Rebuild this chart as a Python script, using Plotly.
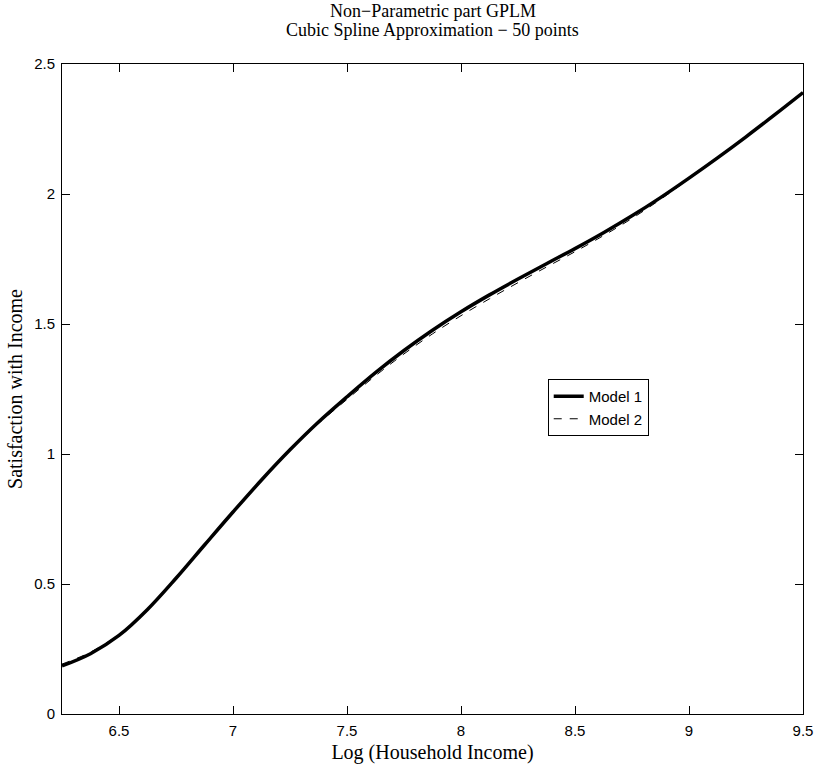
import plotly.graph_objects as go

# Log household income grid
log_income = [6.25, 6.375, 6.5, 6.625, 6.75, 6.875, 7.0, 7.125, 7.25, 7.375,
              7.5, 7.625, 7.75, 7.875, 8.0, 8.125, 8.25, 8.375, 8.5, 8.625,
              8.75, 8.875, 9.0, 9.125, 9.25, 9.375, 9.5]

# Estimated non-parametric component, Model 1
model1 = [0.185, 0.232, 0.302, 0.402, 0.522, 0.650, 0.777, 0.900, 1.016, 1.123,
          1.220, 1.313, 1.398, 1.476, 1.547, 1.612, 1.673, 1.732, 1.790, 1.851,
          1.916, 1.986, 2.061, 2.139, 2.220, 2.304, 2.390]

# Estimated non-parametric component, Model 2
model2 = [0.192, 0.238, 0.306, 0.403, 0.522, 0.650, 0.777, 0.899, 1.013, 1.117,
          1.210, 1.301, 1.385, 1.462, 1.532, 1.597, 1.659, 1.719, 1.778, 1.840,
          1.906, 1.979, 2.058, 2.138, 2.220, 2.304, 2.390]

x_ticks = [6.5, 7, 7.5, 8, 8.5, 9, 9.5]
x_tick_labels = ["6.5", "7", "7.5", "8", "8.5", "9", "9.5"]
y_ticks = [0, 0.5, 1, 1.5, 2, 2.5]
y_tick_labels = ["0", "0.5", "1", "1.5", "2", "2.5"]

title_lines = ["Non\u2212Parametric part GPLM",
               "Cubic Spline Approximation \u2212 50 points"]

serif = "Liberation Serif, Times New Roman, serif"
sans = "Liberation Sans, Arial, Helvetica, sans-serif"

fig = go.Figure()
fig.add_trace(go.Scatter(
    x=log_income, y=model1, mode="lines", name="Model 1",
    line=dict(color="black", width=3.5, shape="spline", smoothing=1.0),
))
fig.add_trace(go.Scatter(
    x=log_income, y=model2, mode="lines", name="Model 2",
    line=dict(color="black", width=1, dash="8px,8px", shape="spline", smoothing=1.0),
))

axis_common = dict(
    showgrid=False, zeroline=False, showline=True, linecolor="black",
    linewidth=1, mirror="ticks", ticks="inside", ticklen=8, tickwidth=1,
    tickcolor="black", tickfont=dict(family=sans, size=15, color="black"),
    ticklabelstandoff=3,
)

# Two-line heading above the axes box
for text, ypos in zip(title_lines, [1.081, 1.053]):
    fig.add_annotation(
        text=text, xref="paper", yref="paper", x=0.5, y=ypos,
        xanchor="center", yanchor="middle", showarrow=False,
        font=dict(family=serif, size=18, color="black"),
    )

fig.update_layout(
    width=825, height=773,
    margin=dict(l=62, r=17, t=64, b=59),
    paper_bgcolor="white", plot_bgcolor="white",
    xaxis=dict(
        range=[6.25, 9.5], tickvals=x_ticks, ticktext=x_tick_labels,
        title=dict(text="Log (Household Income)", standoff=6,
                   font=dict(family=serif, size=20, color="black")),
        **axis_common,
    ),
    yaxis=dict(
        range=[0, 2.5], tickvals=y_ticks, ticktext=y_tick_labels,
        title=dict(text="Satisfaction with Income", standoff=6,
                   font=dict(family=serif, size=20, color="black")),
        **axis_common,
    ),
    legend=dict(
        x=(551 - 62) / 746, y=(714 - 379) / 650, xanchor="left", yanchor="top",
        bordercolor="black", borderwidth=1, bgcolor="white",
        font=dict(family=sans, size=15, color="black"),
        tracegroupgap=0, itemwidth=30,
    ),
    showlegend=True,
)

fig.write_html("out.html")
